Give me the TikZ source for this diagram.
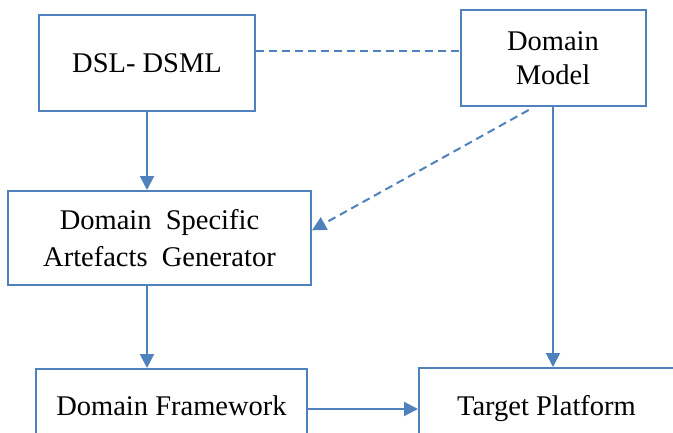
\documentclass[tikz,border=0pt]{standalone}
\usepackage{fontspec}
\setmainfont{Liberation Serif}
\usetikzlibrary{arrows.meta,calc}
\definecolor{lineblue}{HTML}{4F81BD}
\begin{document}
\begin{tikzpicture}[x=1pt,y=-1pt,
  blockbox/.style={draw=lineblue, line width=2pt, fill=white, inner sep=0pt,
    align=center, font=\fontsize{28.5}{34}\selectfont},
  tip/.style={-{Triangle[length=14pt,width=14pt]}},
  flow/.style={draw=lineblue, line width=2pt, tip},
  link/.style={draw=lineblue, line width=2pt, dash pattern=on 8pt off 5pt}]
\useasboundingbox (0,0) rectangle (673,432);
\begin{scope}
\clip (0,0) rectangle (673,432);
\node[blockbox, minimum width=216pt, minimum height=96pt] (dsl) at (147,63) {DSL- DSML};
\node[blockbox, minimum width=185pt, minimum height=96pt] (dm) at (553,58) {Domain\\Model};
\node[blockbox, minimum width=303pt, minimum height=94pt, font=\fontsize{28.5}{37}\selectfont] (gen) at (159.5,238) {Domain~~Specific\\Artefacts~~Generator};
\node[blockbox, minimum width=271pt, minimum height=74pt] (fw) at (171.5,406) {Domain Framework};
\node[blockbox, minimum width=255pt, minimum height=82pt] (tp) at (546.5,409) {Target Platform};

\coordinate (dslr) at ($(dsl.north east)!0.375!(dsl.south east)$);
\coordinate (dmb) at ($(dm.south west)!0.37!(dm.south east)+(0,3)$);
\coordinate (genr) at ($(gen.north east)!0.42!(gen.south east)$);

\draw[link] (dslr) -- (dslr -| dm.west);
\draw[link, tip] (dmb) -- (genr);
\draw[flow] (dsl.south) -- (dsl.south |- gen.north);
\draw[flow] (gen.south -| dsl.south) -- (fw.north -| dsl.south);
\draw[flow] (dm.south) -- (dm.south |- tp.north);
\draw[flow] (fw.east |- 0,409) -- (tp.west |- 0,409);
\end{scope}
\end{tikzpicture}
\end{document}
